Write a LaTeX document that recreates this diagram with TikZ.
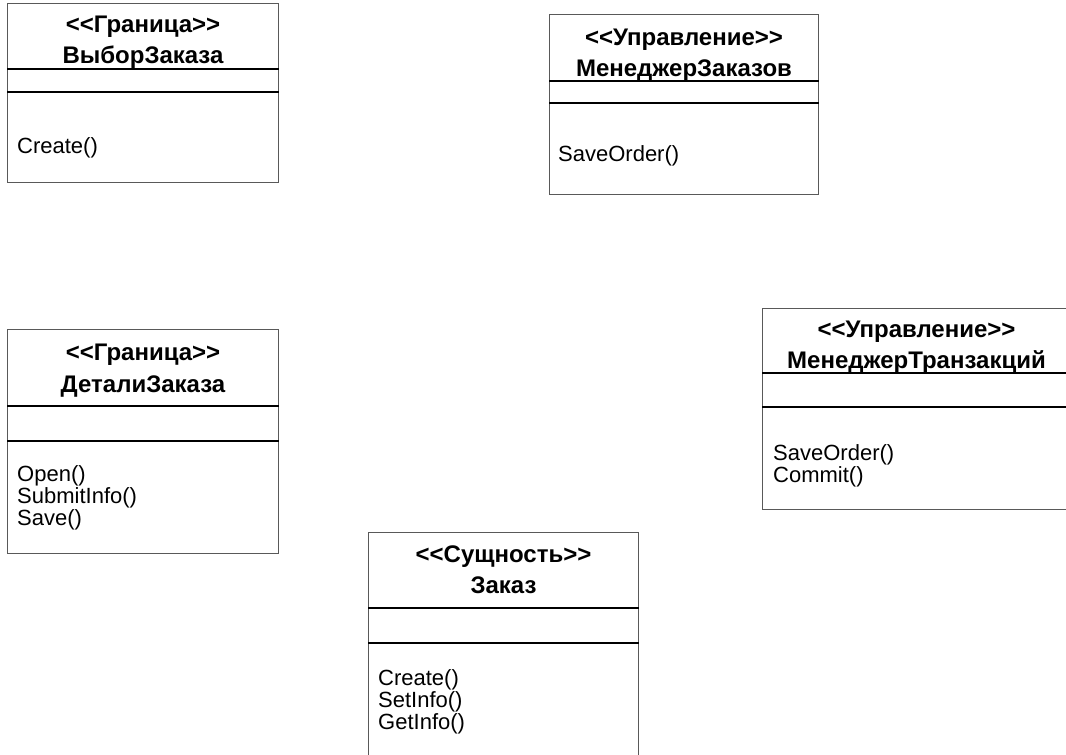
\documentclass[tikz,border=0pt]{standalone}
\usepackage{fontspec}
\setmainfont{Liberation Sans}[Ligatures=TeXOff]
\usetikzlibrary{positioning}

\begin{document}
\begin{tikzpicture}[
x=1pt, y=-1pt,
classbox/.style={draw=black!65, line width=1pt, anchor=north west, inner sep=0pt},
sep/.style={draw=black, line width=1.3pt},
title/.style={anchor=base, inner sep=0pt, font=\bfseries\fontsize{24}{28}\selectfont},
op/.style={anchor=base west, inner sep=0pt, font=\fontsize{22}{24}\selectfont}
]
\useasboundingbox (0,0) rectangle (1066,755);

% <<Граница>> ВыборЗаказа
\node[classbox, minimum width=271pt, minimum height=179pt] (selOrder) at (7,3) {};
\node[title] (selOrderSt) at ([yshift=-29pt]selOrder.north) {<<Граница>>};
\node[title] (selOrderName) at ([yshift=-60pt]selOrder.north) {ВыборЗаказа};
\draw[sep] ([yshift=-66pt]selOrder.north west) -- ([yshift=-66pt]selOrder.north east);
\draw[sep] ([yshift=-89pt]selOrder.north west) -- ([yshift=-89pt]selOrder.north east);
\node[op] (selOrderCreate) at ([xshift=10pt, yshift=-150pt]selOrder.north west) {Create()};

% <<Управление>> МенеджерЗаказов
\node[classbox, minimum width=269pt, minimum height=180pt] (orderMgr) at (549,14) {};
\node[title] (orderMgrSt) at ([yshift=-31pt]orderMgr.north) {<<Управление>>};
\node[title] (orderMgrName) at ([yshift=-62pt]orderMgr.north) {МенеджерЗаказов};
\draw[sep] ([yshift=-67pt]orderMgr.north west) -- ([yshift=-67pt]orderMgr.north east);
\draw[sep] ([yshift=-89pt]orderMgr.north west) -- ([yshift=-89pt]orderMgr.north east);
\node[op] (orderMgrSave) at ([xshift=9pt, yshift=-147pt]orderMgr.north west) {SaveOrder()};

% <<Граница>> ДеталиЗаказа
\node[classbox, minimum width=271pt, minimum height=224pt] (orderDet) at (7,329) {};
\node[title] (orderDetSt) at ([yshift=-31pt]orderDet.north) {<<Граница>>};
\node[title] (orderDetName) at ([yshift=-63pt]orderDet.north) {ДеталиЗаказа};
\draw[sep] ([yshift=-77pt]orderDet.north west) -- ([yshift=-77pt]orderDet.north east);
\draw[sep] ([yshift=-112pt]orderDet.north west) -- ([yshift=-112pt]orderDet.north east);
\node[op] (orderDetOpen) at ([xshift=10pt, yshift=-152pt]orderDet.north west) {Open()};
\node[op] (orderDetSubmit) at ([xshift=10pt, yshift=-174pt]orderDet.north west) {SubmitInfo()};
\node[op] (orderDetSave) at ([xshift=10pt, yshift=-196pt]orderDet.north west) {Save()};

% <<Управление>> МенеджерТранзакций
\node[classbox, minimum width=308pt, minimum height=201pt] (transMgr) at (762,308) {};
\node[title] (transMgrSt) at ([yshift=-29pt]transMgr.north) {<<Управление>>};
\node[title] (transMgrName) at ([yshift=-60pt]transMgr.north) {МенеджерТранзакций};
\draw[sep] ([yshift=-65pt]transMgr.north west) -- ([yshift=-65pt]transMgr.north east);
\draw[sep] ([yshift=-99pt]transMgr.north west) -- ([yshift=-99pt]transMgr.north east);
\node[op] (transMgrSave) at ([xshift=11pt, yshift=-152pt]transMgr.north west) {SaveOrder()};
\node[op] (transMgrCommit) at ([xshift=11pt, yshift=-174pt]transMgr.north west) {Commit()};

% <<Сущность>> Заказ
\node[classbox, minimum width=270pt, minimum height=240pt] (order) at (368,532) {};
\node[title] (orderSt) at ([yshift=-30pt]order.north) {<<Сущность>>};
\node[title] (orderName) at ([yshift=-61pt]order.north) {Заказ};
\draw[sep] ([yshift=-76pt]order.north west) -- ([yshift=-76pt]order.north east);
\draw[sep] ([yshift=-111pt]order.north west) -- ([yshift=-111pt]order.north east);
\node[op] (orderCreate) at ([xshift=10pt, yshift=-153pt]order.north west) {Create()};
\node[op] (orderSetInfo) at ([xshift=10pt, yshift=-175pt]order.north west) {SetInfo()};
\node[op] (orderGetInfo) at ([xshift=10pt, yshift=-197pt]order.north west) {GetInfo()};
\end{tikzpicture}
\end{document}
